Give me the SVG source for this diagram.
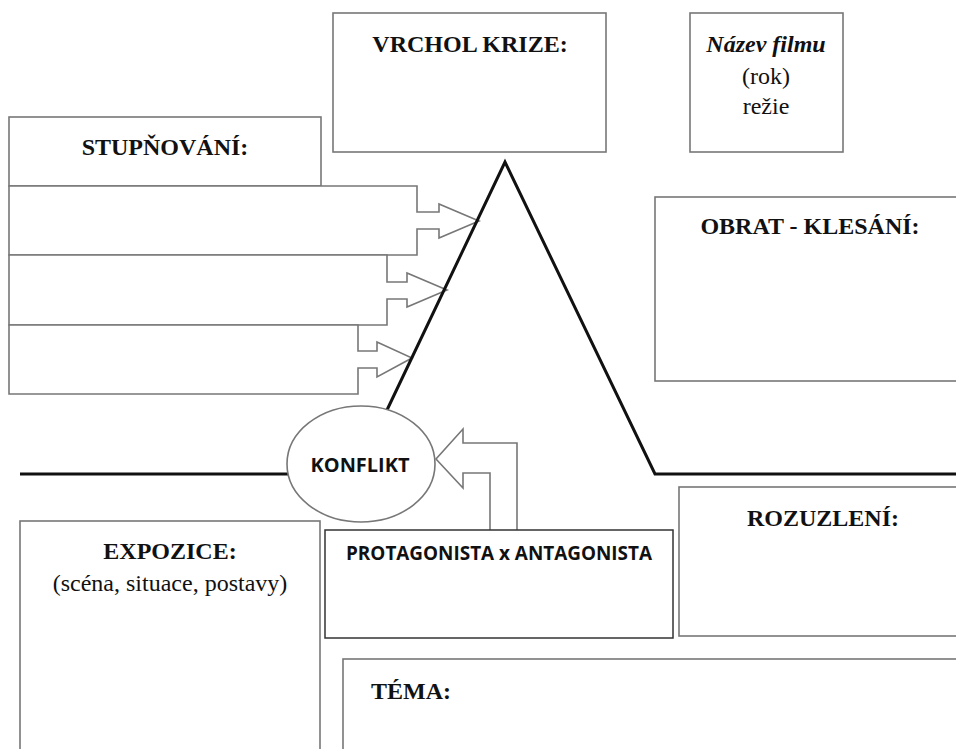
<svg xmlns="http://www.w3.org/2000/svg" width="956" height="749" viewBox="0 0 956 749">
  <style>
    .box { fill: #fff; stroke: #777; stroke-width: 1.6; }
    .dark { fill: #fff; stroke: #333; stroke-width: 1.5; }
    .plot { fill: none; stroke: #111; stroke-width: 3; stroke-linejoin: miter; }
    .title { font-family: "Liberation Serif", "Times New Roman", serif; font-weight: 700; font-size: 24px; fill: #111; text-anchor: middle; }
    .plain { font-family: "Liberation Serif", "Times New Roman", serif; font-size: 24px; fill: #111; text-anchor: middle; }
    .sans { font-family: "Open Sans", "Liberation Sans", sans-serif; font-weight: 700; font-size: 19px; fill: #111; text-anchor: middle; }
  </style>
  <rect width="956" height="749" fill="#fff"/>

  <!-- title blocks at the top -->
  <g id="vrchol">
    <rect class="box" x="333" y="13" width="273" height="139"/>
    <text class="title" x="470" y="52">VRCHOL KRIZE:</text>
  </g>
  <g id="nazev">
    <rect class="box" x="690" y="13" width="153" height="139"/>
    <text class="title" x="766" y="52" font-style="italic">Název filmu</text>
    <text class="plain" x="766" y="84">(rok)</text>
    <text class="plain" x="766" y="114">režie</text>
  </g>

  <!-- rising action: header plus three arrow rows -->
  <g id="stupnovani">
    <rect class="box" x="9" y="117" width="312" height="69"/>
    <text class="title" x="165" y="155">STUPŇOVÁNÍ:</text>
  </g>
  <g id="stupen1">
    <path class="box" d="M9,186 H417 V212 H439 V204 L479,221 L439,238 V229 H417 V255 H9 Z"/>
  </g>
  <g id="stupen2">
    <path class="box" d="M9,255 H387 V282 H407 V273 L447,290 L407,307 V299 H387 V325 H9 Z"/>
  </g>
  <g id="stupen3">
    <path class="box" d="M9,325 H358 V351 H377 V342 L412,358 L377,377 V368 H358 V394 H9 Z"/>
  </g>

  <g id="obrat">
    <rect class="box" x="655" y="197" width="310" height="184"/>
    <text class="title" x="810" y="234">OBRAT - KLESÁNÍ:</text>
  </g>

  <!-- story curve and the arrow feeding the conflict -->
  <g id="connectors">
    <line class="plot" x1="20" y1="474" x2="300" y2="474"/>
    <polyline class="plot" points="387,410 505,162 655,474 956,474"/>
    <path class="box" d="M490,530 V473 H463 V488 L436,459 L463,429 V443 H517 V530"/>
  </g>

  <g id="konflikt">
    <ellipse class="box" cx="361" cy="464" rx="74" ry="58"/>
    <text class="sans" x="360" y="472" textLength="99" lengthAdjust="spacingAndGlyphs">KONFLIKT</text>
  </g>

  <g id="protagonista">
    <rect class="dark" x="325" y="530" width="348" height="108"/>
    <text class="sans" x="499" y="560" textLength="306" lengthAdjust="spacingAndGlyphs">PROTAGONISTA x ANTAGONISTA</text>
  </g>

  <g id="rozuzleni">
    <rect class="box" x="679" y="487" width="290" height="149"/>
    <text class="title" x="823" y="526">ROZUZLENÍ:</text>
  </g>

  <g id="expozice">
    <rect class="box" x="20" y="521" width="300" height="240"/>
    <text class="title" x="170" y="559">EXPOZICE:</text>
    <text class="plain" x="170" y="591">(scéna, situace, postavy)</text>
  </g>

  <g id="tema">
    <rect class="box" x="343" y="659" width="630" height="100"/>
    <text class="title" x="371" y="699" text-anchor="start" style="text-anchor:start">TÉMA:</text>
  </g>
</svg>
